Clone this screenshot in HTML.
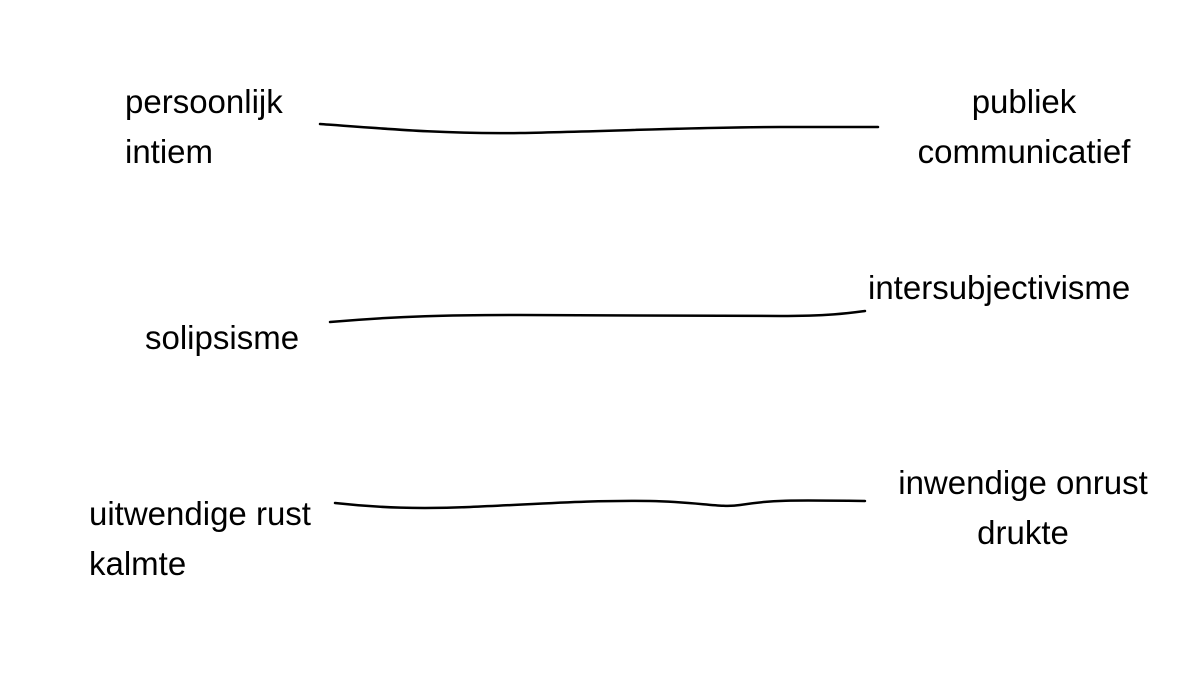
<!DOCTYPE html>
<html><head><meta charset="utf-8"><style>
html,body{margin:0;padding:0;background:#fff;}
body{width:1200px;height:675px;position:relative;overflow:hidden;font-family:"Liberation Sans",sans-serif;}
.t{position:absolute;font-size:33px;color:#000;line-height:50px;white-space:nowrap;}
</style></head><body>
<div class="t" style="left:125px;top:77px;">persoonlijk<br>intiem</div>
<div class="t" style="left:904px;top:77px;width:240px;text-align:center;">publiek<br>communicatief</div>
<div class="t" style="left:868px;top:263px;">intersubjectivisme</div>
<div class="t" style="left:145px;top:313px;">solipsisme</div>
<div class="t" style="left:89px;top:489px;">uitwendige rust<br>kalmte</div>
<div class="t" style="left:883px;top:458px;width:280px;text-align:center;">inwendige onrust<br>drukte</div>
<svg width="1200" height="675" style="position:absolute;left:0;top:0" fill="none" stroke="#000" stroke-width="2.5" stroke-linecap="round">
<path d="M320 124 C400 130 450 134 520 133 C620 131 700 127 780 127 L878 127"/>
<path d="M330 322 C400 316 450 315 520 315 C620 315 700 316 780 316 C830 316 850 313 865 311"/>
<path d="M335 503 C380 508 420 509 470 507 C540 504 590 500 650 501 C700 502 720 508 740 505 C770 500 790 500 865 501"/>
</svg>
</body></html>
